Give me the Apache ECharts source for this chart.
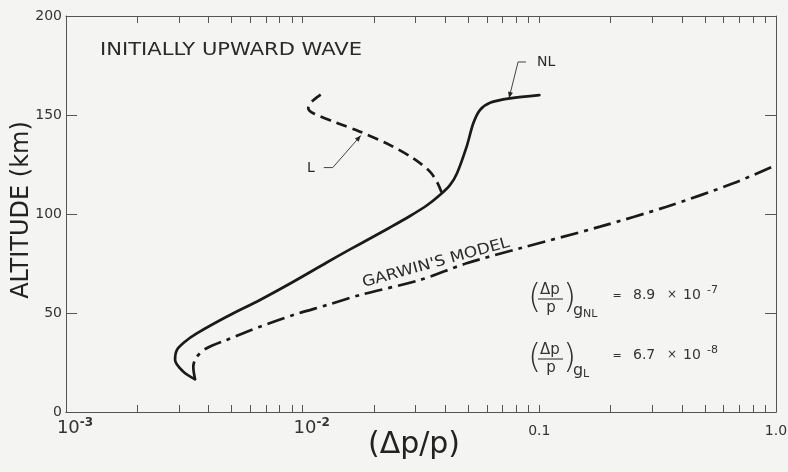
<!DOCTYPE html>
<html>
<head>
<meta charset="utf-8">
<script src="https://cdn.jsdelivr.net/npm/echarts@6/dist/echarts.min.js"></script>
<style>
html,body{margin:0;padding:0;background:#f4f4f2;}
#c{width:788px;height:472px;}
</style>
</head>
<body>
<div id="c"></div>
<script>
// ---- data ----
const nlX = [3.51e-3, 3.13e-3, 2.89e-3, 2.94e-3, 3.18e-3, 3.57e-3, 4.77e-3, 6.60e-3, 9.13e-3, 1.264e-2, 1.585e-2, 1.925e-2, 2.339e-2, 2.842e-2, 3.342e-2, 3.80e-2, 4.19e-2, 4.49e-2, 4.93e-2, 5.26e-2, 5.61e-2, 6.19e-2, 7.52e-2, 0.1];
const nlY = [16.5, 20.4, 26.3, 31.3, 35.5, 39.7, 48.1, 56.6, 65.8, 75.5, 82.1, 87.6, 93.2, 99.0, 104.3, 109.6, 114.6, 120.6, 134.0, 145.8, 152.5, 156.2, 158.4, 160.0];

const lX = [3.86e-2, 3.72e-2, 3.45e-2, 2.935e-2, 2.339e-2, 1.747e-2, 1.392e-2, 1.109e-2, 1.056e-2, 1.092e-2, 1.203e-2];
const lY = [111.0, 115.5, 121.4, 128.1, 134.8, 141.6, 146.1, 150.9, 153.4, 156.7, 160.6];

const gX = [3.51e-3, 3.45e-3, 3.57e-3, 3.93e-3, 4.77e-3, 6.60e-3, 9.13e-3, 1.264e-2, 1.747e-2, 3.13e-2, 4.93e-2, 8.29e-2, 0.1805, 0.345, 0.660, 1.0];
const gY = [16.5, 22.9, 27.9, 32.2, 36.4, 43.1, 49.0, 54.0, 59.1, 66.7, 75.1, 82.7, 93.6, 103.7, 115.5, 124.7];

const xLabelValues = [0.001, 0.01, 0.1, 1];
const xTickValues = [];
[0.001, 0.01, 0.1].forEach(d => { for (let k = 1; k <= 10; k++) xTickValues.push(+(d * k).toPrecision(3)); });
const yLabelValues = [0, 50, 100, 150, 200];
const yTickValues = [50, 100, 150];

const zip = (xs, ys) => xs.map((x, i) => [x, ys[i]]);

const FONT = 'DejaVu Sans';
const INK = '#1a1a1a';
const AX = '#555';

const chart = echarts.init(document.getElementById('c'), null, {renderer: 'canvas'});

function xFmt(v) {
  if (v < 0.05) {
    const e = Math.round(Math.log10(v));
    return '{pad|}{b|10}{s|' + e + '}';
  }
  return '{d|' + (v >= 1 ? '1.0' : '0.1') + '}';
}

const yCommon = {
  type: 'value', min: 0, max: 200, interval: 50,
  axisLine: {show: true, onZero: false, lineStyle: {color: AX, width: 1}},
  axisTick: {show: true, inside: true, length: 11, customValues: yTickValues, lineStyle: {color: AX, width: 1}},
  splitLine: {show: false}
};
// frame tick axes: decades expressed as exponents on a linear axis (same pixel positions as the log axis)
const tickFrame = (pos, gi) => ({
  type: 'value', min: -3, max: 0, position: pos, gridIndex: gi,
  axisLine: {show: true, onZero: false, lineStyle: {color: AX, width: 1}},
  axisTick: {show: true, inside: true, length: 7, customValues: xTickValues.map(v => Math.log10(v)), lineStyle: {color: AX, width: 1}},
  axisLabel: {show: false},
  splitLine: {show: false}
});

const lineBase = {type: 'line', showSymbol: false, symbol: 'none', smooth: 0.3, silent: true, animation: false};
const gridRect = {left: 66, right: 12, top: 16, bottom: 60, containLabel: false, outerBoundsMode: 'none'};

chart.setOption({
  backgroundColor: '#f4f4f2',
  animation: false,
  grid: [Object.assign({}, gridRect), Object.assign({}, gridRect)],
  xAxis: [
    {
      type: 'log', logBase: 10, min: 0.001, max: 1, position: 'bottom', gridIndex: 0,
      axisLine: {show: true, onZero: false, lineStyle: {color: AX, width: 1}},
      axisTick: {show: false},
      minorTick: {show: false},
      splitLine: {show: false},
      axisLabel: {
        show: true, customValues: xLabelValues, margin: 5, formatter: xFmt, color: '#333', fontFamily: FONT,
        rich: {
          pad: {width: 18, height: 10},
          b: {fontSize: 18, lineHeight: 22, fontFamily: FONT, color: '#333'},
          s: {fontSize: 12, fontWeight: 'bold', lineHeight: 12, verticalAlign: 'top', fontFamily: FONT, color: '#333'},
          d: {fontSize: 14, lineHeight: 28, fontFamily: FONT, color: '#333'}
        }
      }
    },
    tickFrame('top', 0),
    tickFrame('bottom', 1)
  ],
  yAxis: [
    Object.assign({}, yCommon, {
      position: 'left', gridIndex: 0,
      axisLabel: {show: true, customValues: yLabelValues, margin: 4, fontSize: 14, color: '#333', fontFamily: FONT}
    }),
    Object.assign({}, yCommon, {position: 'right', gridIndex: 0, axisLabel: {show: false}}),
    {type: 'value', min: 0, max: 200, gridIndex: 1, show: false}
  ],
  series: [
    Object.assign({}, lineBase, {name: 'NL', data: zip(nlX, nlY), lineStyle: {color: INK, width: 2.7, cap: 'round', join: 'round'}}),
    Object.assign({}, lineBase, {name: 'L', data: zip(lX, lY), lineStyle: {color: INK, width: 2.7, type: [11, 6]}}),
    Object.assign({}, lineBase, {name: "GARWIN'S MODEL", data: zip(gX, gY), lineStyle: {color: INK, width: 2.7, type: [18, 6, 4, 6]}})
  ]
});

// ---- annotations ----
const P = (x, y) => chart.convertToPixel({xAxisIndex: 0, yAxisIndex: 0}, [x, y]);
const txt = (x, y, s, o) => ({type: 'text', x: x, y: y, silent: true, style: Object.assign({text: s, fill: '#2a2a2a', font: '14px "' + FONT + '"', align: 'left', verticalAlign: 'middle'}, o || {})});
const seg = (pts, w) => ({type: 'polyline', silent: true, shape: {points: pts}, style: {stroke: '#444', lineWidth: w || 1, fill: null}});
function arrowHead(tip, from, len, half) {
  const dx = tip[0] - from[0], dy = tip[1] - from[1];
  const L = Math.hypot(dx, dy), ux = dx / L, uy = dy / L;
  const bx = tip[0] - ux * len, by = tip[1] - uy * len;
  return {type: 'polygon', silent: true, shape: {points: [tip, [bx - uy * half, by + ux * half], [bx + uy * half, by - ux * half]]}, style: {fill: '#222'}};
}

function formula(x0, y0, sub, mant, exp) {
  const out = [];
  out.push(txt(x0, y0, '(', {font: '300 34px "' + FONT + '"', fill: '#333'}));
  out.push(txt(x0 + 22, y0 - 9, 'Δp', {font: '15px "' + FONT + '"', align: 'center', fill: '#333'}));
  out.push(seg([[x0 + 10, y0], [x0 + 35, y0]], 1.2));
  out.push(txt(x0 + 23, y0 + 9, 'p', {font: '15px "' + FONT + '"', align: 'center', fill: '#333'}));
  out.push(txt(x0 + 35, y0, ')', {font: '300 34px "' + FONT + '"', fill: '#333'}));
  out.push(txt(x0 + 45, y0 + 12, 'g', {font: '16px "' + FONT + '"', fill: '#333'}));
  out.push(txt(x0 + 55, y0 + 15, sub, {font: '11px "' + FONT + '"', fill: '#333'}));
  out.push(txt(x0 + 89, y0 - 3, '=', {font: '11px "' + FONT + '"', align: 'center', fill: '#333'}));
  out.push(txt(x0 + 105, y0 - 4, mant, {font: '14px "' + FONT + '"', fill: '#333'}));
  out.push(txt(x0 + 144, y0 - 4, '×', {font: '12px "' + FONT + '"', align: 'center', fill: '#333'}));
  out.push(txt(x0 + 155, y0 - 4, '10', {font: '14px "' + FONT + '"', fill: '#333'}));
  out.push(txt(x0 + 179, y0 - 9, exp, {font: '11px "' + FONT + '"', fill: '#333'}));
  return out;
}

const nlTip = P(0.0745, 158.6);
const lTip = P(0.0176, 139.6);
const nlBend = [nlTip[0] + 9, nlTip[1] - 36];
const lBend = [lTip[0] - 28, lTip[1] + 32];

const g = [];
const title = txt(100, 50, 'INITIALLY UPWARD WAVE', {font: '18px "' + FONT + '"', fill: '#2a2a2a'});
title.scaleX = 1.17; title.originX = 0; title.originY = 0;
g.push(title);
// NL leader
g.push(seg([[nlBend[0] + 8, nlBend[1]], nlBend, nlTip], 1));
g.push(arrowHead(nlTip, nlBend, 6, 2.5));
g.push(txt(537, 62, 'NL', {font: '14px "' + FONT + '"'}));
// L leader
g.push(seg([[lBend[0] - 9, lBend[1]], lBend, lTip], 1));
g.push(arrowHead(lTip, lBend, 6, 2.5));
g.push(txt(307, 168, 'L', {font: '14px "' + FONT + '"'}));
// Garwin label, rotated along the curve
g.push({type: 'text', x: 436, y: 263, rotation: 15.5 * Math.PI / 180, scaleX: 1.13, silent: true,
  style: {text: "GARWIN'S MODEL", font: '15px "' + FONT + '"', fill: '#2a2a2a', align: 'center', verticalAlign: 'middle'}});
// formulas
formula(528, 299, 'NL', '8.9', '-7').forEach(e => g.push(e));
formula(528, 359, 'L', '6.7', '-8').forEach(e => g.push(e));
// axis titles
g.push({type: 'text', x: 22, y: 210, rotation: Math.PI / 2, silent: true,
  style: {text: 'ALTITUDE (km)', font: '24px "' + FONT + '"', fill: '#222', align: 'center', verticalAlign: 'middle'}});
g.push(txt(414, 445, '(Δp/p)', {font: '30px "' + FONT + '"', align: 'center', fill: '#222'}));

chart.setOption({graphic: {elements: g}});
</script>
</body>
</html>
